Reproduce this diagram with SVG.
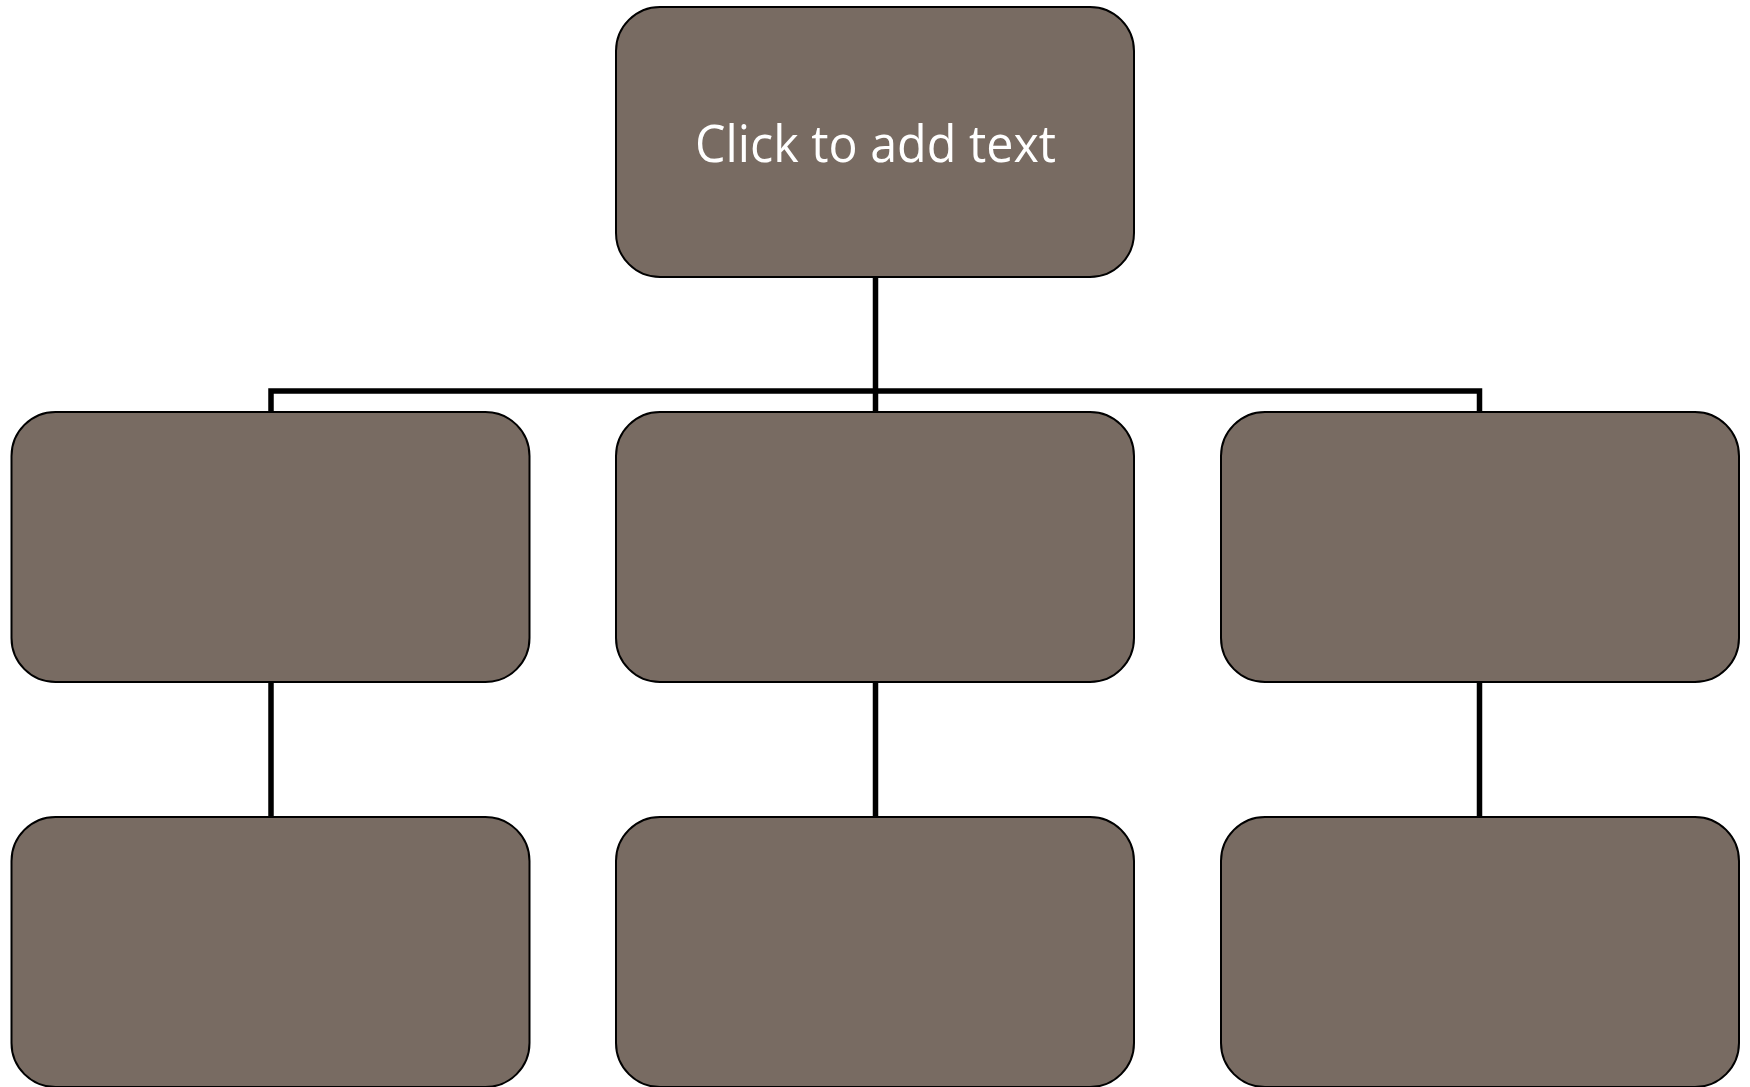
<svg xmlns="http://www.w3.org/2000/svg" width="1750" height="1087" viewBox="0 0 1750 1087">
  <style>
    .box { fill: #786B62; stroke: #000; stroke-width: 2; }
    .link { fill: none; stroke: #000; stroke-width: 5.5; stroke-linejoin: miter; }
    .label { font-family: "Open Sans", "Noto Sans", sans-serif; font-size: 52px; fill: #fff; }
  </style>

  <!-- tree connectors -->
  <g id="connectors">
    <path class="link" d="M875.5 277 V412"/>
    <path class="link" d="M271 412 V391 H1479.5 V412"/>
    <path class="link" d="M271 682 V817"/>
    <path class="link" d="M875.5 682 V817"/>
    <path class="link" d="M1479.5 682 V817"/>
  </g>

  <!-- root -->
  <g id="node-root">
    <rect class="box" x="616" y="7" width="518" height="270" rx="44" ry="44"/>
    <text class="label" x="875.5" y="162" text-anchor="middle" textLength="361" lengthAdjust="spacingAndGlyphs">Click to add text</text>
  </g>

  <!-- second level -->
  <g id="node-l1-left">
    <rect class="box" x="11.5" y="412" width="518" height="270" rx="44" ry="44"/>
  </g>
  <g id="node-l1-center">
    <rect class="box" x="616" y="412" width="518" height="270" rx="44" ry="44"/>
  </g>
  <g id="node-l1-right">
    <rect class="box" x="1221" y="412" width="518" height="270" rx="44" ry="44"/>
  </g>

  <!-- third level -->
  <g id="node-l2-left">
    <rect class="box" x="11.5" y="817" width="518" height="270" rx="44" ry="44"/>
  </g>
  <g id="node-l2-center">
    <rect class="box" x="616" y="817" width="518" height="270" rx="44" ry="44"/>
  </g>
  <g id="node-l2-right">
    <rect class="box" x="1221" y="817" width="518" height="270" rx="44" ry="44"/>
  </g>
</svg>
